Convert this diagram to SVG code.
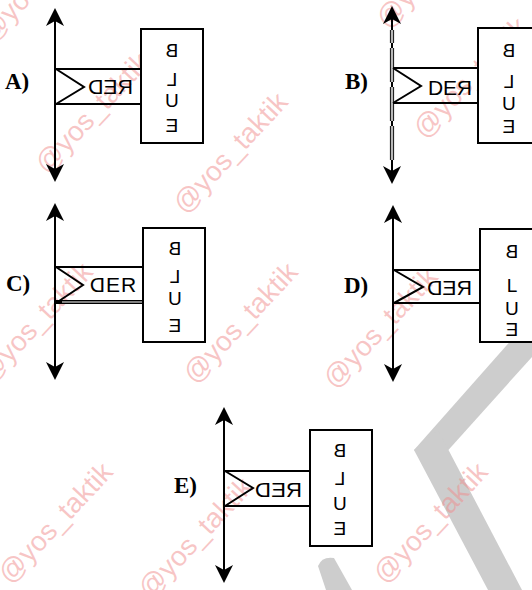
<svg xmlns="http://www.w3.org/2000/svg" width="532" height="590" viewBox="0 0 532 590">
<defs>
<style>
.ln{stroke:#000;stroke-width:2;fill:none}
.bx{fill:#fff;stroke:#000;stroke-width:2}
.w{font-family:"Liberation Sans",Arial,sans-serif;font-size:21px;fill:#000}
.bl{font-family:"Liberation Sans",Arial,sans-serif;font-size:19px;fill:#000;text-anchor:middle}
.lb{font-family:"Liberation Serif","Times New Roman",serif;font-size:23px;font-weight:bold;fill:#000}
.wm{font-family:"Liberation Sans",Arial,sans-serif;font-size:28px;fill:#f08c8c;fill-opacity:0.5}
.gr{fill:#cdcdcd}
</style>
<marker id="ah" viewBox="0 -9 18 18" refX="8" refY="0" markerWidth="18" markerHeight="18" markerUnits="userSpaceOnUse" orient="auto-start-reverse">
<path d="M18,0 L0,-9 L5,0 L0,9 Z" fill="#000"/>
</marker>
</defs>
<rect width="532" height="590" fill="#fff"/>

<g id="backdrop">
<path class="gr" d="M522,328 L540,348 L434,466 L414,450 Z"/>
<path class="gr" d="M414,450 L438,430 L522,590 L488,590 Z"/>
<path class="gr" d="M318,566 Q322,556 334,558 L352,590 L326,590 Z"/>
</g>

<g id="watermarks">
<text class="wm" transform="translate(-8,44) rotate(-47)">@yos_taktik</text>
<text class="wm" transform="translate(47,175) rotate(-47)">@yos_taktik</text>
<text class="wm" transform="translate(185,215) rotate(-47)">@yos_taktik</text>
<text class="wm" transform="translate(388,30) rotate(-47)">@yos_taktik</text>
<text class="wm" transform="translate(425,140) rotate(-47)">@yos_taktik</text>
<text class="wm" transform="translate(-10,385) rotate(-47)">@yos_taktik</text>
<text class="wm" transform="translate(195,385) rotate(-47)">@yos_taktik</text>
<text class="wm" transform="translate(335,390) rotate(-47)">@yos_taktik</text>
<text class="wm" transform="translate(10,585) rotate(-47)">@yos_taktik</text>
<text class="wm" transform="translate(150,600) rotate(-47)">@yos_taktik</text>
<text class="wm" transform="translate(385,585) rotate(-47)">@yos_taktik</text>
</g>

<g id="connectors">
<line class="ln" x1="55" y1="172" x2="55" y2="18" marker-start="url(#ah)" marker-end="url(#ah)"/>
<line x1="392" y1="174" x2="392" y2="16" stroke="#000" stroke-width="2" marker-start="url(#ah)" marker-end="url(#ah)"/>
<line x1="392" y1="160" x2="392" y2="30" stroke="#222" stroke-width="4.2" stroke-dasharray="34 5"/>
<line x1="392" y1="160" x2="392" y2="30" stroke="#b8b8b8" stroke-width="2" stroke-dasharray="34 5"/>
<line class="ln" x1="55" y1="370" x2="55" y2="213" marker-start="url(#ah)" marker-end="url(#ah)"/>
<line class="ln" x1="393" y1="372" x2="393" y2="215" marker-start="url(#ah)" marker-end="url(#ah)"/>
<line class="ln" x1="224" y1="573" x2="224" y2="417" marker-start="url(#ah)" marker-end="url(#ah)"/>
</g>

<g id="optA">
<text class="lb" x="5" y="89">A)</text>
<path class="ln" d="M56,69 H142 M56,104 H142 M56,69 L84,87 L56,104"/>
<text class="w" transform="translate(110.5,94) scale(-1,1)" text-anchor="middle" textLength="45" lengthAdjust="spacingAndGlyphs" font-size="23">RED</text>
<g id="boxA">
<rect class="bx" x="141" y="29" width="62" height="114"/>
<text class="bl" transform="translate(172,57) scale(-1,1)">B</text>
<text class="bl" transform="translate(172,86) scale(-1,1)">L</text>
<text class="bl" transform="translate(172,107) scale(-1,1)">U</text>
<text class="bl" transform="translate(172,132) scale(-1,1)">E</text>
</g>
</g>

<g id="optB">
<text class="lb" x="345" y="89">B)</text>
<path class="ln" d="M393,68 H479 M393,103 H479 M393,68 L421,86 L393,103"/>
<text class="w" x="428" y="95">D</text>
<text class="w" x="443" y="95">E</text>
<text class="w" transform="translate(472,95) scale(-1,1)">R</text>
<g id="boxB">
<rect class="bx" x="478" y="28" width="62" height="115"/>
<text class="bl" transform="translate(509,57) scale(-1,1)">B</text>
<text class="bl" transform="translate(509,88) scale(-1,1)">L</text>
<text class="bl" transform="translate(509,110) scale(-1,1)">U</text>
<text class="bl" transform="translate(509,133) scale(-1,1)">E</text>
</g>
</g>

<g id="optC">
<text class="lb" x="6" y="291">C)</text>
<path class="ln" d="M56,267 H143 M56,267 L83,285 L56,303"/>
<line x1="56" y1="302" x2="143" y2="302" stroke="#000" stroke-width="4"/>
<line x1="62" y1="302" x2="143" y2="302" stroke="#fff" stroke-width="1.2"/>
<text class="w" transform="translate(105,292) scale(-1,1)">D</text>
<text class="w" x="106" y="292">E</text>
<text class="w" x="121" y="292">R</text>
<g id="boxC">
<rect class="bx" x="143" y="228" width="62" height="114"/>
<text class="bl" transform="translate(175,255) scale(-1,1)">B</text>
<text class="bl" transform="translate(175,283) scale(-1,1)">L</text>
<text class="bl" transform="translate(175,305) scale(-1,1)">U</text>
<text class="bl" transform="translate(175,332) scale(-1,1)">E</text>
</g>
</g>

<g id="optD">
<text class="lb" x="344" y="293">D)</text>
<path class="ln" d="M394,270 H481 M394,303 H481 M394,270 L423,287 L394,303"/>
<text class="w" transform="translate(449.5,295) scale(-1,1)" text-anchor="middle" textLength="45" lengthAdjust="spacingAndGlyphs">RED</text>
<g id="boxD">
<rect class="bx" x="480" y="229" width="62" height="113"/>
<text class="bl" transform="translate(512,258) scale(-1,1)">B</text>
<text class="bl" x="512" y="292">L</text>
<text class="bl" transform="translate(512,315) scale(-1,1)">U</text>
<text class="bl" transform="translate(512,336) scale(-1,1)">E</text>
</g>
</g>

<g id="optE">
<text class="lb" x="174" y="493">E)</text>
<path class="ln" d="M225,471 H311 M225,506 H311 M225,471 L253,488 L225,506"/>
<text class="w" transform="translate(278.5,497) scale(-1,1)" text-anchor="middle" textLength="47" lengthAdjust="spacingAndGlyphs" font-size="22">RED</text>
<g id="boxE">
<rect class="bx" x="310" y="430" width="62" height="116"/>
<text class="bl" transform="translate(340,457) scale(-1,1)">B</text>
<text class="bl" transform="translate(340,485) scale(-1,1)">L</text>
<text class="bl" transform="translate(340,510) scale(-1,1)">U</text>
<text class="bl" transform="translate(340,535) scale(-1,1)">E</text>
</g>
</g>
</svg>
